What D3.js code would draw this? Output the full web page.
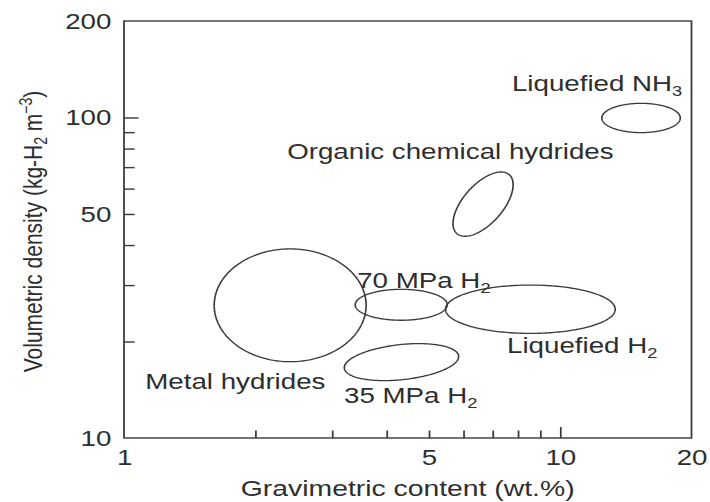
<!DOCTYPE html>
<html>
<head>
<meta charset="utf-8">
<script src="https://cdn.jsdelivr.net/npm/d3@7"></script>
<style>
  html, body { margin: 0; padding: 0; background: #fff; }
  svg { display: block; }
</style>
</head>
<body>
<svg id="chart" width="710" height="502"></svg>
<script>
// Hydrogen storage media: ranges of gravimetric content (wt.%) and
// volumetric density (kg-H2 m^-3). "_" marks a subscript in a name.
const media = [
  "Metal hydrides",
  "70 MPa H_2",
  "Liquefied H_2",
  "35 MPa H_2",
  "Organic chemical hydrides",
  "Liquefied NH_3"
];
const wtMin  = [1.61, 3.39, 5.46, 3.20, 5.68, 12.46];
const wtMax  = [3.59, 5.51, 13.37, 5.85, 7.80, 18.85];
const volMin = [17.3, 23.3, 21.2, 15.1, 42.6, 89.7];
const volMax = [38.9, 29.1, 30.0, 19.7, 67.6, 110.7];
// how strongly the two ranges move together inside each region (0 = untilted)
const coupling = [0, 0, 0, 0.3, 0.6, 0];

// axis ticks
const xDomain = [1, 20];
const yDomain = [10, 200];
const xTickLabels = [1, 5, 10, 20];
const yTickLabels = [10, 50, 100, 200];
const xMinorTicks = [2, 3, 4, 5, 6, 7, 8, 9];
const xMajorTicks = [10];
const yMinorTicks = [20, 30, 40, 50, 60, 70, 80, 90];
const yMajorTicks = [100];

// ---- drawing ----
const W = 710, H = 502;
const STRETCH = 1.26;                 // the figure is drawn horizontally widened
const IW = W / STRETCH;
const margin = { left: 98.4, right: IW - 548.8, top: 21, bottom: H - 438 };

const FONT = "'Liberation Sans', Arial, Helvetica, sans-serif";
const INK = "#2e2e2e";
const LINE = "#3a3a3a";

const svg = d3.select("#chart");
const root = svg.append("g").attr("transform", `scale(${STRETCH},1)`);

const x = d3.scaleLog().domain(xDomain).range([margin.left, IW - margin.right]);
const y = d3.scaleLog().domain(yDomain).range([H - margin.bottom, margin.top]);

const x0 = x.range()[0], x1 = x.range()[1];
const y0 = y.range()[0], y1 = y.range()[1];

function styleAxis(g) {
  g.select(".domain").remove();
  g.selectAll(".tick line").attr("stroke", LINE).attr("stroke-width", 1.4);
  g.selectAll("text")
    .attr("fill", INK)
    .style("font-family", FONT)
    .style("font-size", "22px");
}

// x ticks (pointing into the plot)
root.append("g").attr("transform", `translate(0,${y0})`)
  .call(d3.axisBottom(x).tickValues(xMinorTicks).tickSize(-7.5).tickFormat(""))
  .call(styleAxis);
root.append("g").attr("transform", `translate(0,${y0})`)
  .call(d3.axisBottom(x).tickValues(xMajorTicks).tickSize(-11).tickFormat(""))
  .call(styleAxis);
root.append("g").attr("transform", `translate(0,${y0})`)
  .call(d3.axisBottom(x).tickValues(xTickLabels).tickSize(0).tickPadding(11).tickFormat(d3.format("d")))
  .call(styleAxis);

// y ticks
root.append("g").attr("transform", `translate(${x0},0)`)
  .call(d3.axisLeft(y).tickValues(yMinorTicks).tickSize(-8.5).tickFormat(""))
  .call(styleAxis);
root.append("g").attr("transform", `translate(${x0},0)`)
  .call(d3.axisLeft(y).tickValues(yMajorTicks).tickSize(-11.5).tickFormat(""))
  .call(styleAxis);
root.append("g").attr("transform", `translate(${x0},0)`)
  .call(d3.axisLeft(y).tickValues(yTickLabels).tickSize(0).tickPadding(10).tickFormat(d3.format("d")))
  .call(styleAxis);

// frame
root.append("rect")
  .attr("x", x0).attr("y", y1)
  .attr("width", x1 - x0).attr("height", y0 - y1)
  .attr("fill", "none").attr("stroke", LINE).attr("stroke-width", 1.4);

// write "H_2" style names as text with subscripts
function richText(sel, str, subSize, subShift) {
  const parts = str.split(/_(\S)/);
  parts.forEach((p, i) => {
    if (p === "") return;
    if (i % 2 === 1) {
      sel.append("tspan").attr("font-size", subSize).attr("dy", subShift).text(p);
    } else {
      const t = sel.append("tspan").text(p);
      if (i > 0) t.attr("dy", -subShift);
    }
  });
}

// regions: ellipses spanning each medium's range on the log-log axes
const L = Math.log10;
const regions = media.map((name, i) => ({
  name,
  cx: (L(wtMin[i]) + L(wtMax[i])) / 2,
  hx: (L(wtMax[i]) - L(wtMin[i])) / 2,
  cy: (L(volMin[i]) + L(volMax[i])) / 2,
  hy: (L(volMax[i]) - L(volMin[i])) / 2,
  phase: Math.acos(coupling[i])
}));

const outline = d3.line().curve(d3.curveLinearClosed);
const N = 240;
root.append("g").selectAll("path")
  .data(regions)
  .join("path")
  .attr("d", r => outline(d3.range(N).map(k => {
    const t = 2 * Math.PI * k / N;
    return [x(Math.pow(10, r.cx + r.hx * Math.cos(t))),
            y(Math.pow(10, r.cy + r.hy * Math.cos(t - r.phase)))];
  })))
  .attr("fill", "none")
  .attr("stroke", LINE)
  .attr("stroke-width", 1.3);

// label placement: left end / baseline, offset from each region's centre
const labelOffset = {
  "Metal hydrides": [-115, 84],
  "70 MPa H_2": [-35, -17],
  "Liquefied H_2": [-18.5, 44],
  "35 MPa H_2": [-45.6, 41],
  "Organic chemical hydrides": [-155.5, -45],
  "Liquefied NH_3": [-102.5, -27]
};

root.append("g").selectAll("text")
  .data(regions)
  .join("text")
  .attr("x", r => x(Math.pow(10, r.cx)) + labelOffset[r.name][0])
  .attr("y", r => y(Math.pow(10, r.cy)) + labelOffset[r.name][1])
  .attr("fill", INK)
  .style("font-family", FONT)
  .style("font-size", "22px")
  .each(function (r) { richText(d3.select(this), r.name, "14.5px", 5); });

// axis titles
root.append("text")
  .attr("x", (x0 + x1) / 2).attr("y", 496)
  .attr("text-anchor", "middle")
  .attr("fill", INK)
  .style("font-family", FONT)
  .style("font-size", "22.5px")
  .text("Gravimetric content (wt.%)");

const yTitle = root.append("text")
  .attr("transform", `translate(33.3,${(y0 + y1) / 2 + 2}) rotate(-90)`)
  .attr("text-anchor", "middle")
  .attr("fill", INK)
  .style("font-family", FONT)
  .style("font-size", "21px");
yTitle.append("tspan").text("Volumetric density (kg-H");
yTitle.append("tspan").attr("font-size", "14px").attr("dy", 4).text("2");
yTitle.append("tspan").attr("dy", -4).text(" m");
yTitle.append("tspan").attr("font-size", "14px").attr("dy", -8).text("\u22123");
yTitle.append("tspan").attr("dy", 8).text(")");
</script>
</body>
</html>
